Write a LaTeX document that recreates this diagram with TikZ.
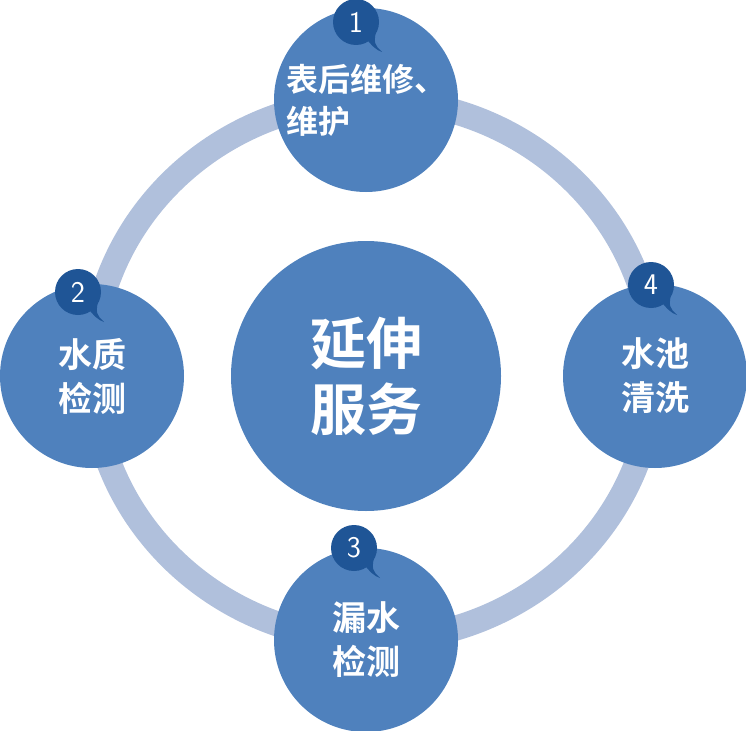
\documentclass[tikz,border=0pt]{standalone}
\usepackage{fontspec}
\newfontfamily\cjk{Noto Sans CJK SC}[BoldFont={Noto Sans CJK SC Bold}]
\usetikzlibrary{calc}
\definecolor{nodeblue}{RGB}{79,129,189}
\definecolor{ringblue}{RGB}{176,192,220}
\definecolor{badgeblue}{RGB}{31,85,150}
\tikzset{
  stage/.style={circle, fill=nodeblue, minimum size=184pt, inner sep=0pt, text=white,
    font=\cjk\bfseries\fontsize{34}{44}\selectfont, align=center},
  badge/.style={circle, fill=badgeblue, minimum size=46pt, inner sep=0pt, text=white,
    font=\sffamily\fontsize{30}{30}\selectfont}
}
\newcommand{\tail}[1]{\fill[badgeblue] ($(#1)+(8,14)$) .. controls ($(#1)+(16,24)$) and ($(#1)+(20,28)$) .. ($(#1)+(26,30)$) .. controls ($(#1)+(18,22)$) .. ($(#1)+(20,8)$) -- cycle;}
\begin{document}
\begin{tikzpicture}[x=1pt,y=-1pt]
	\useasboundingbox (0,0) rectangle (746,730);

	% ring
	\draw [ringblue, line width=25pt] (373,370) ellipse [x radius=281, y radius=270];

	% center
	\node [circle, fill=nodeblue, minimum size=270pt, text=white, align=center,
	  font=\cjk\bfseries\fontsize{56}{66}\selectfont] (center) at (366,376) {延伸\\服务};

	% stages
	\node [stage, align=left, font=\cjk\bfseries\fontsize{32}{42}\selectfont] (repair) at (366,100) {表后维修、\\维护};
	\node [stage] (quality) at (92,376) {水质\\检测};
	\node [stage] (leak) at (366,640) {漏水\\检测};
	\node [stage] (pool) at (655,376) {水池\\清洗};

	% badges
	\coordinate (b1) at (356,22);
	\coordinate (b2) at (78,292);
	\coordinate (b3) at (354,548);
	\coordinate (b4) at (651,285);
	\foreach \b/\n in {b1/1,b2/2,b3/3,b4/4}{
		\tail{\b}
		\node [badge] at (\b) {\n};
	}
\end{tikzpicture}
\end{document}
